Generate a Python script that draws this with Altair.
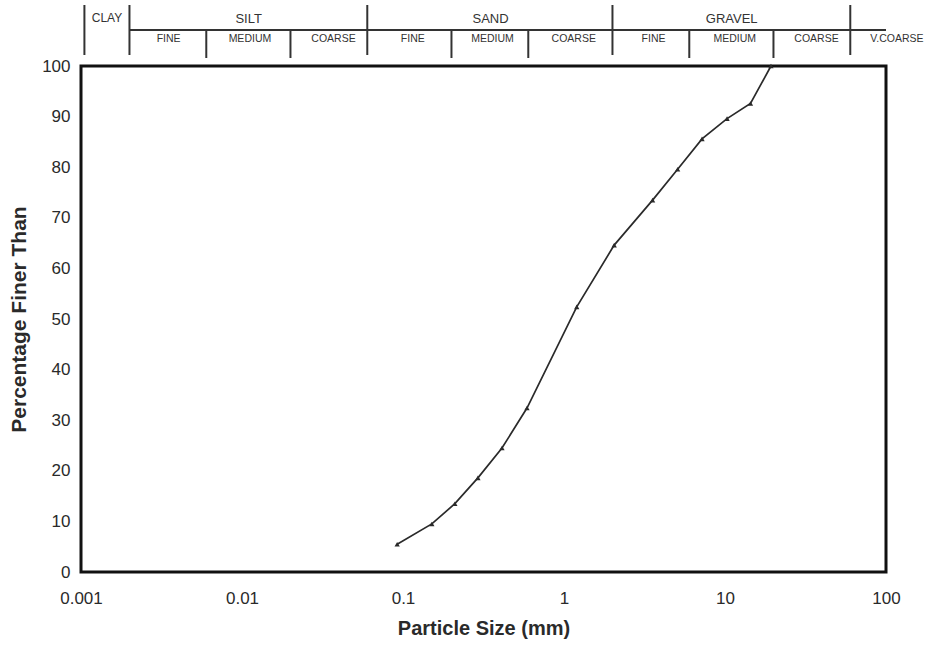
import altair as alt
import pandas as pd

# Grading curve data (particle size mm, percentage finer)
sizes = [0.092, 0.151, 0.21, 0.292, 0.412, 0.589, 1.2, 2.05, 3.55, 5.08, 7.2, 10.3, 14.4, 19.3]
finer = [5.5, 9.5, 13.5, 18.6, 24.5, 32.4, 52.4, 64.6, 73.5, 79.6, 85.6, 89.6, 92.6, 100]

# Soil classification header
major_bounds = [0.002, 0.06, 2, 60]
minor_bounds = [0.006, 0.02, 0.2, 0.6, 6, 20]
major_names = ["SILT", "SAND", "GRAVEL"]
major_centers = [0.011, 0.35, 11]
minor_names = ["FINE", "MEDIUM", "COARSE", "FINE", "MEDIUM", "COARSE", "FINE", "MEDIUM", "COARSE", "V.COARSE"]
minor_centers = [0.0035, 0.0112, 0.037, 0.115, 0.36, 1.15, 3.6, 11.5, 37, 117]

x_ticks = [0.001, 0.01, 0.1, 1, 10, 100]
y_ticks = [0, 10, 20, 30, 40, 50, 60, 70, 80, 90, 100]

FONT = "Liberation Sans"
INK = "#2a2a2a"

curve = pd.DataFrame({"size": sizes, "finer": finer})

xscale = alt.Scale(type="log", domain=[0.001, 100])
yscale = alt.Scale(domain=[0, 100])

xenc = alt.X("size:Q", scale=xscale,
             axis=alt.Axis(values=x_ticks, format=".3~f", title="Particle Size (mm)",
                           grid=False, domain=False, ticks=False, labelPadding=18,
                           labelFontSize=17, labelFont=FONT, labelColor=INK,
                           titleFontSize=20, titleFont=FONT, titleFontWeight="bold",
                           titlePadding=12, titleColor=INK, labelFlush=False))
yenc = alt.Y("finer:Q", scale=yscale,
             axis=alt.Axis(values=y_ticks, title="Percentage Finer Than",
                           grid=False, domain=False, ticks=False, labelPadding=11,
                           labelFontSize=17, labelFont=FONT, labelColor=INK,
                           titleFontSize=21, titleFont=FONT, titleFontWeight="bold",
                           titlePadding=12, titleColor=INK))

line = alt.Chart(curve).mark_line(color=INK, strokeWidth=1.7).encode(x=xenc, y=yenc)
pts = alt.Chart(curve).mark_point(shape="triangle-up", filled=True, size=28, color=INK,
                                  opacity=1).encode(x="size:Q", y="finer:Q")

# header rules
maj_df = pd.DataFrame({"b": major_bounds})
min_df = pd.DataFrame({"b": minor_bounds})
hdr_major = alt.Chart(maj_df).mark_rule(color="#333", strokeWidth=2, clip=False).encode(
    x=alt.X("b:Q", scale=xscale), y=alt.value(-61), y2=alt.value(-11))
hdr_minor = alt.Chart(min_df).mark_rule(color="#333", strokeWidth=2, clip=False).encode(
    x=alt.X("b:Q", scale=xscale), y=alt.value(-36), y2=alt.value(-8))
hdr_left = alt.Chart(pd.DataFrame({"b": [0.00105]})).mark_rule(color="#333", strokeWidth=2, clip=False).encode(
    x=alt.X("b:Q", scale=xscale), y=alt.value(-61), y2=alt.value(-11))
hdr_h = alt.Chart(pd.DataFrame({"a": [0.002], "b": [100]})).mark_rule(color="#333", strokeWidth=2, clip=False).encode(
    x=alt.X("a:Q", scale=xscale), x2="b:Q", y=alt.value(-36))

major_txt = alt.Chart(pd.DataFrame({"n": major_names, "c": major_centers})).mark_text(
    font=FONT, fontSize=13, color="#333", clip=False).encode(
    x=alt.X("c:Q", scale=xscale), y=alt.value(-47), text="n:N")
clay_txt = alt.Chart(pd.DataFrame({"n": ["CLAY"], "c": [0.00145]})).mark_text(
    font=FONT, fontSize=12, color="#333", clip=False).encode(
    x=alt.X("c:Q", scale=xscale), y=alt.value(-48), text="n:N")
minor_txt = alt.Chart(pd.DataFrame({"n": minor_names, "c": minor_centers})).mark_text(
    font=FONT, fontSize=10.5, color="#333", clip=False).encode(
    x=alt.X("c:Q", scale=xscale), y=alt.value(-27), text="n:N")

chart = alt.layer(line, pts, hdr_major, hdr_minor, hdr_left, hdr_h,
                  major_txt, clay_txt, minor_txt).properties(
    width=805, height=506,
    autosize=alt.AutoSizeParams(type="none"),
    padding={"left": 81, "top": 66, "right": 39, "bottom": 74},
    background="white",
).configure_view(stroke="#111", strokeWidth=3)

chart.save("out.html", embed_options={"renderer": "svg", "actions": False})
